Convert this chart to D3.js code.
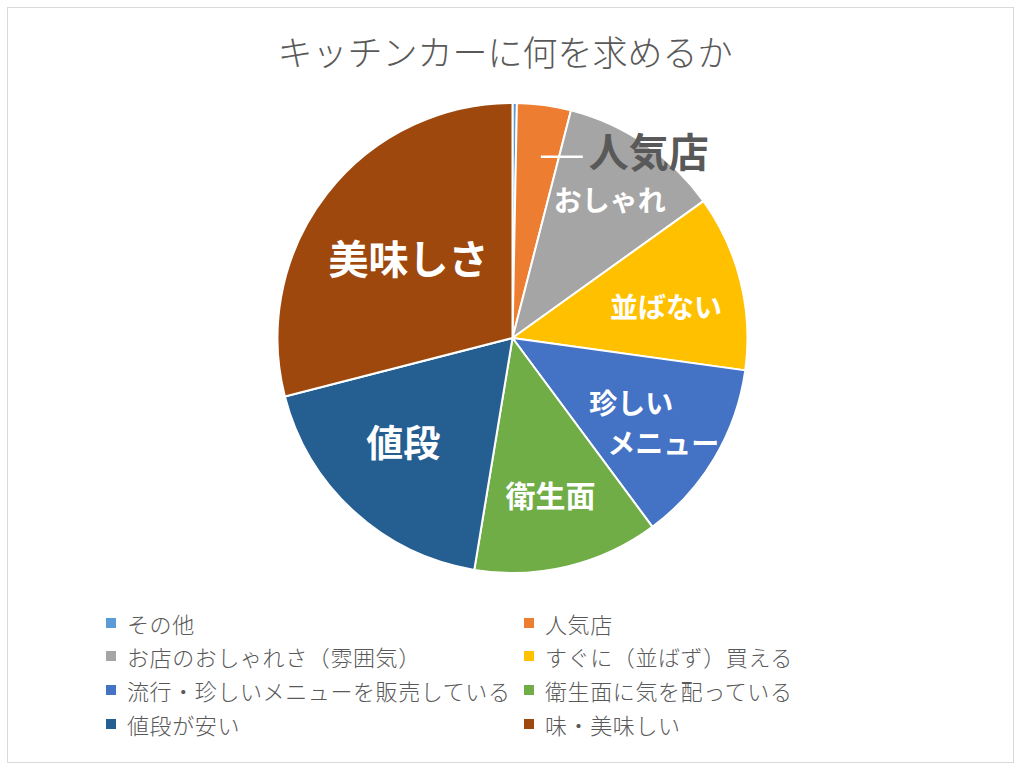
<!DOCTYPE html>
<html><head><meta charset="utf-8">
<script src="https://cdn.jsdelivr.net/npm/d3@7"></script>
<style>
html,body{margin:0;padding:0;background:#fff;}
svg text{font-family:"Noto Sans CJK JP","Noto Sans",sans-serif;}
</style></head>
<body>
<svg id="chart" width="1024" height="768"></svg>
<script>
const categories = ["その他","人気店","お店のおしゃれさ（雰囲気）","すぐに（並ばず）買える","流行・珍しいメニューを販売している","衛生面に気を配っている","値段が安い","味・美味しい"];
const values = [0.3, 3.7, 11.1, 12.1, 12.65, 12.75, 18.4, 29.0];
const sliceLabels = ["", "人気店", "おしゃれ", "並ばない", "珍しい\nメニュー", "衛生面", "値段", "美味しさ"];
const colors = ["#5B9BD5","#ED7D31","#A5A5A5","#FFC000","#4472C4","#70AD47","#255E91","#9E480E"];
const title = "キッチンカーに何を求めるか";

// layout (not data)
const cx = 512.5, cy = 338, R = 235;
const labelStyle = [
  null,
  {r:0.80, size:40, outside:true, dx:0, dy:0},
  {r:0.725, size:28, dx:1, dy:2},
  {r:0.66, size:28, dx:3, dy:5},
  {r:0.70, size:28, dx:8, dy:0},
  {r:0.69, size:30, dx:0, dy:-2},
  {r:0.65, size:37, dx:-6, dy:-10},
  {r:0.56, size:40, dx:0, dy:0}
];

const svg = d3.select("#chart");
svg.append("rect").attr("x",7.5).attr("y",7.5).attr("width",1006).attr("height",755)
  .attr("fill","#fff").attr("stroke","#D9D9D9").attr("stroke-width",1);

svg.append("text").attr("x",505).attr("y",50).attr("text-anchor","middle")
  .attr("dominant-baseline","central").attr("font-size",35).attr("font-weight",300)
  .attr("fill","#595959").text(title);

const pie = d3.pie().sort(null).value(d=>d);
const arcs = pie(values);
const arc = d3.arc().innerRadius(0).outerRadius(R);
const g = svg.append("g").attr("transform",`translate(${cx},${cy})`);

g.selectAll("path").data(arcs).join("path")
  .attr("d",arc).attr("fill",(d,i)=>colors[i])
  .attr("stroke","#fff").attr("stroke-width",2).attr("stroke-linejoin","round");

arcs.forEach((d,i)=>{
  const st = labelStyle[i];
  if(!st || !sliceLabels[i]) return;
  const la = d3.arc().innerRadius(R*st.r).outerRadius(R*st.r);
  let [x,y] = la.centroid(d);
  x += st.dx; y += st.dy;
  if(st.outside){
    const ly = y + 5;
    g.append("line").attr("x1",x+3).attr("y1",ly).attr("x2",x+45).attr("y2",ly)
      .attr("stroke","#fff").attr("stroke-width",2.5);
    g.append("text").attr("x",x+51).attr("y",ly-7).attr("dominant-baseline","central")
      .attr("font-size",st.size).attr("font-weight",700).attr("fill","#595959")
      .text(sliceLabels[i]);
    return;
  }
  const lines = sliceLabels[i].split("\n");
  const t = g.append("text").attr("text-anchor","middle").attr("font-size",st.size)
    .attr("font-weight",700).attr("fill","#fff").attr("dominant-baseline","central");
  if(lines.length===1){
    t.attr("x",x).attr("y",y).text(lines[0]);
  } else {
    const lh = st.size*1.4;
    lines.forEach((ln,k)=>{
      const off = k===0 ? -st.size*1.1 : st.size*0.05;
      t.append("tspan").attr("x",x+off).attr("y",y+(k-(lines.length-1)/2)*lh).text(ln);
    });
  }
});

// legend
const legend = svg.append("g");
const colX = [106, 524], textX = [127, 545];
const rowY = [623, 656, 690, 724];
categories.forEach((c,i)=>{
  const col = i%2, row = Math.floor(i/2);
  legend.append("rect").attr("x",colX[col]).attr("y",rowY[row]-5).attr("width",10).attr("height",10)
    .attr("fill",colors[i]);
  legend.append("text").attr("x",textX[col]).attr("y",rowY[row]).attr("dominant-baseline","central")
    .attr("font-size",22).attr("letter-spacing",0.6).attr("font-weight",300).attr("fill","#595959").text(c);
});
</script>
</body></html>
